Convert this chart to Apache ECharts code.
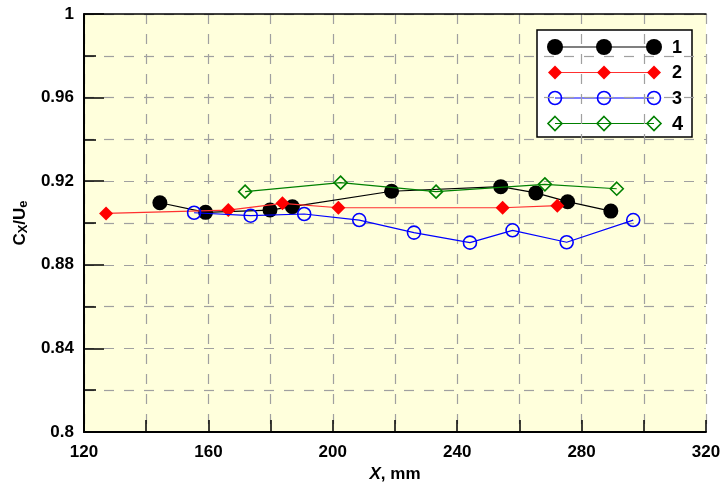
<!DOCTYPE html>
<html><head><meta charset="utf-8">
<script src="https://cdn.jsdelivr.net/npm/echarts@6/dist/echarts.min.js"></script>
<style>html,body{margin:0;padding:0;background:#fff}#c{width:721px;height:482px}</style>
</head><body><div id="c"></div>
<script>
const seriesNames = ['1', '2', '3', '4'];
const x1 = [144.4, 159.1, 179.8, 187.0, 218.9, 254.0, 265.3, 275.5, 289.4];
const y1 = [0.9097, 0.9051, 0.9062, 0.9078, 0.9152, 0.9174, 0.9144, 0.9102, 0.9057];
const x2 = [127.1, 166.4, 183.8, 201.8, 254.6, 272.2];
const y2 = [0.9046, 0.9062, 0.9094, 0.9073, 0.9073, 0.9083];
const x3 = [155.4, 173.6, 190.8, 208.5, 226.1, 244.1, 257.8, 275.2, 296.6];
const y3 = [0.9049, 0.9035, 0.9043, 0.9014, 0.8954, 0.8906, 0.8965, 0.8908, 0.9014];
const x4 = [171.8, 202.5, 233.2, 268.2, 291.3];
const y4 = [0.9150, 0.9193, 0.9150, 0.9185, 0.9164];
const xTickLabels = ['120', '160', '200', '240', '280', '320'];
const yTickLabels = ['0.8', '0.84', '0.88', '0.92', '0.96', '1'];

const pairs = (xs, ys) => xs.map((x, i) => [x, ys[i]]);
const FONT = 'Liberation Sans';
const chart = echarts.init(document.getElementById('c'), null, {renderer: 'canvas'});

const styles = [
  {symbol: 'circle', size: 15, line: '#000', fill: '#000', border: '#000', bw: 0},
  {symbol: 'diamond', size: 14, line: '#ff3030', fill: '#ff0000', border: '#ff0000', bw: 0},
  {symbol: 'circle', size: 13, line: '#0000ff', fill: 'rgba(0,0,0,0)', border: '#0000ff', bw: 1.6},
  {symbol: 'diamond', size: 13, line: '#008000', fill: 'rgba(0,0,0,0)', border: '#008000', bw: 1.6}
];
const datasets = [pairs(x1, y1), pairs(x2, y2), pairs(x3, y3), pairs(x4, y4)];

const series = datasets.map((d, i) => ({
  name: seriesNames[i], type: 'line', data: d,
  symbol: styles[i].symbol, symbolSize: styles[i].size,
  lineStyle: {color: styles[i].line, width: 1.2},
  itemStyle: {color: styles[i].fill, borderColor: styles[i].border, borderWidth: styles[i].bw},
  emphasis: {disabled: true}, animation: false, z: 3 + i
}));

// legend drawn as graphic
const legLeft = 537, legTop = 30, rowGap = 25.5;
const legChildren = [{type: 'rect', shape: {x: 0, y: 0, width: 155, height: 107},
  style: {fill: '#fff', stroke: '#000', lineWidth: 1.5}}];
styles.forEach((s, i) => {
  const yy = 17 + i * rowGap;
  legChildren.push({type: 'line', shape: {x1: 18, y1: yy, x2: 117, y2: yy}, style: {stroke: s.line, lineWidth: 1.2}});
  [18, 67, 117].forEach(cx => {
    const r = s.symbol === 'circle' ? (i === 0 ? 8 : 6.5) : 7;
    if (s.symbol === 'circle') {
      legChildren.push({type: 'circle', shape: {cx: cx, cy: yy, r: r},
        style: {fill: s.fill, stroke: s.bw ? s.border : null, lineWidth: s.bw}});
    } else {
      legChildren.push({type: 'polygon', shape: {points: [[cx, yy - r], [cx + r, yy], [cx, yy + r], [cx - r, yy]]},
        style: {fill: s.fill, stroke: s.bw ? s.border : null, lineWidth: s.bw}});
    }
  });
  legChildren.push({type: 'text', x: 135, y: yy + 1, style: {text: seriesNames[i], fill: '#000',
    font: 'bold ' + (i === 3 ? 20 : 18) + 'px "' + FONT + '"', textVerticalAlign: 'middle', textAlign: 'left'}});
});

const option = {
  backgroundColor: '#fff',
  animation: false,
  grid: {left: 84, top: 14, width: 622, height: 418, show: true, backgroundColor: '#ffffdc', borderWidth: 0,
    containLabel: false, outerBoundsMode: 'none'},
  xAxis: [{
    type: 'value', min: 120, max: 320, interval: 40,
    name: '{i|X}{n|, mm}', nameLocation: 'middle', nameGap: 31,
    nameTextStyle: {rich: {i: {fontFamily: FONT, fontSize: 17, fontWeight: 'bold', fontStyle: 'italic', color: '#000'},
      n: {fontFamily: FONT, fontSize: 17, fontWeight: 'bold', color: '#000'}}},
    axisLine: {show: true, onZero: false, lineStyle: {color: '#000', width: 2}},
    axisTick: {show: true, inside: true, length: 12, lineStyle: {color: '#000', width: 1.5}},
    minorTick: {show: true, splitNumber: 2, length: 12, lineStyle: {color: '#000', width: 1.5}},
    axisLabel: {margin: 12, fontFamily: FONT, fontSize: 17, fontWeight: 'bold', color: '#000',
      formatter: (v) => { const k = Math.round((v - 120) / 40); return xTickLabels[k] !== undefined ? xTickLabels[k] : ''; }},
    splitLine: {show: true, lineStyle: {color: '#a0a0a0', type: [10, 10], width: 1.2}},
    minorSplitLine: {show: true, lineStyle: {color: '#a0a0a0', type: [10, 10], width: 1.2}}
  }, {
    type: 'value', position: 'top', min: 120, max: 320,
    axisLine: {show: true, onZero: false, lineStyle: {color: '#000', width: 1.5}},
    axisTick: {show: false}, axisLabel: {show: false}, splitLine: {show: false}
  }],
  yAxis: {
    type: 'value', min: 0.8, max: 1, interval: 0.04,
    name: '{b|C}{s|X}{b|/U}{s|e}', nameLocation: 'middle', nameGap: 54, nameRotate: 90,
    nameTextStyle: {rich: {
      b: {fontFamily: FONT, fontSize: 17, fontWeight: 'bold', color: '#000', verticalAlign: 'top', lineHeight: 18},
      s: {fontFamily: FONT, fontSize: 13, fontWeight: 'bold', color: '#000', verticalAlign: 'bottom', lineHeight: 13, padding: [9, 0, 0, 0]}
    }},
    axisLine: {show: true, onZero: false, lineStyle: {color: '#000', width: 2}},
    axisTick: {show: true, inside: true, length: 20, lineStyle: {color: '#000', width: 1.5}},
    minorTick: {show: true, splitNumber: 2, length: 12, lineStyle: {color: '#000', width: 1.5}},
    axisLabel: {margin: 10, fontFamily: FONT, fontSize: 17, fontWeight: 'bold', color: '#000',
      formatter: (v) => { const k = Math.round((v - 0.8) / 0.04); return yTickLabels[k] !== undefined ? yTickLabels[k] : ''; }},
    splitLine: {show: true, lineStyle: {color: '#a0a0a0', type: [10, 10], width: 1.2}},
    minorSplitLine: {show: true, lineStyle: {color: '#a0a0a0', type: [10, 10], width: 1.2}}
  },
  series: series,
  graphic: [{type: 'group', x: legLeft, y: legTop, z: 100, children: legChildren}]
};
chart.setOption(option);
</script></body></html>
